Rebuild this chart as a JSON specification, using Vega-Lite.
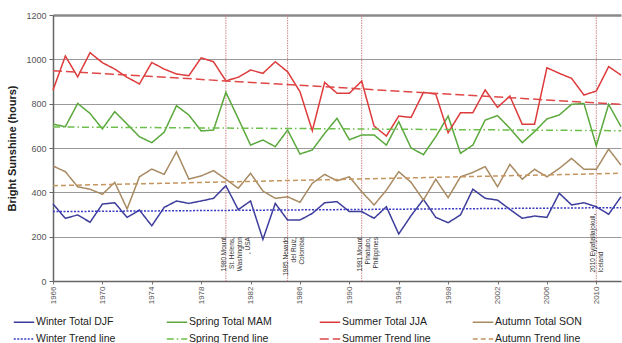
{
  "$schema": "https://vega.github.io/schema/vega-lite/v6.json",
  "width": 568,
  "height": 266,
  "autosize": {"type": "none"},
  "padding": {"left": 53, "top": 15, "right": 1, "bottom": 62},
  "background": "white",
  "config": {"font": "Liberation Sans", "view": {"stroke": null}},
  "datasets": {
    "seasons": [
      {"year": 1966, "Winter Total DJF": 347, "Spring Total MAM": 708, "Summer Total JJA": 861, "Autumn Total SON": 519},
      {"year": 1967, "Winter Total DJF": 283, "Spring Total MAM": 696, "Summer Total JJA": 1015, "Autumn Total SON": 493},
      {"year": 1968, "Winter Total DJF": 298, "Spring Total MAM": 801, "Summer Total JJA": 921, "Autumn Total SON": 425},
      {"year": 1969, "Winter Total DJF": 265, "Spring Total MAM": 756, "Summer Total JJA": 1030, "Autumn Total SON": 414},
      {"year": 1970, "Winter Total DJF": 347, "Spring Total MAM": 686, "Summer Total JJA": 985, "Autumn Total SON": 391},
      {"year": 1971, "Winter Total DJF": 353, "Spring Total MAM": 764, "Summer Total JJA": 956, "Autumn Total SON": 445},
      {"year": 1972, "Winter Total DJF": 287, "Spring Total MAM": 708, "Summer Total JJA": 919, "Autumn Total SON": 325},
      {"year": 1973, "Winter Total DJF": 320, "Spring Total MAM": 651, "Summer Total JJA": 889, "Autumn Total SON": 470},
      {"year": 1974, "Winter Total DJF": 249, "Spring Total MAM": 624, "Summer Total JJA": 986, "Autumn Total SON": 505},
      {"year": 1975, "Winter Total DJF": 332, "Spring Total MAM": 671, "Summer Total JJA": 956, "Autumn Total SON": 481},
      {"year": 1976, "Winter Total DJF": 361, "Spring Total MAM": 791, "Summer Total JJA": 934, "Autumn Total SON": 583},
      {"year": 1977, "Winter Total DJF": 350, "Spring Total MAM": 749, "Summer Total JJA": 926, "Autumn Total SON": 460},
      {"year": 1978, "Winter Total DJF": 361, "Spring Total MAM": 677, "Summer Total JJA": 1007, "Autumn Total SON": 474},
      {"year": 1979, "Winter Total DJF": 373, "Spring Total MAM": 681, "Summer Total JJA": 989, "Autumn Total SON": 498},
      {"year": 1980, "Winter Total DJF": 430, "Spring Total MAM": 851, "Summer Total JJA": 903, "Autumn Total SON": 459},
      {"year": 1981, "Winter Total DJF": 322, "Spring Total MAM": 733, "Summer Total JJA": 919, "Autumn Total SON": 418},
      {"year": 1982, "Winter Total DJF": 361, "Spring Total MAM": 613, "Summer Total JJA": 952, "Autumn Total SON": 486},
      {"year": 1983, "Winter Total DJF": 188, "Spring Total MAM": 636, "Summer Total JJA": 937, "Autumn Total SON": 406},
      {"year": 1984, "Winter Total DJF": 350, "Spring Total MAM": 606, "Summer Total JJA": 989, "Autumn Total SON": 373},
      {"year": 1985, "Winter Total DJF": 275, "Spring Total MAM": 681, "Summer Total JJA": 944, "Autumn Total SON": 380},
      {"year": 1986, "Winter Total DJF": 275, "Spring Total MAM": 573, "Summer Total JJA": 854, "Autumn Total SON": 355},
      {"year": 1987, "Winter Total DJF": 305, "Spring Total MAM": 591, "Summer Total JJA": 678, "Autumn Total SON": 441},
      {"year": 1988, "Winter Total DJF": 353, "Spring Total MAM": 666, "Summer Total JJA": 896, "Autumn Total SON": 481},
      {"year": 1989, "Winter Total DJF": 358, "Spring Total MAM": 734, "Summer Total JJA": 847, "Autumn Total SON": 452},
      {"year": 1990, "Winter Total DJF": 313, "Spring Total MAM": 637, "Summer Total JJA": 847, "Autumn Total SON": 470},
      {"year": 1991, "Winter Total DJF": 313, "Spring Total MAM": 659, "Summer Total JJA": 902, "Autumn Total SON": 403},
      {"year": 1992, "Winter Total DJF": 283, "Spring Total MAM": 659, "Summer Total JJA": 699, "Autumn Total SON": 343},
      {"year": 1993, "Winter Total DJF": 335, "Spring Total MAM": 613, "Summer Total JJA": 654, "Autumn Total SON": 410},
      {"year": 1994, "Winter Total DJF": 212, "Spring Total MAM": 719, "Summer Total JJA": 744, "Autumn Total SON": 493},
      {"year": 1995, "Winter Total DJF": 295, "Spring Total MAM": 600, "Summer Total JJA": 738, "Autumn Total SON": 445},
      {"year": 1996, "Winter Total DJF": 368, "Spring Total MAM": 570, "Summer Total JJA": 851, "Autumn Total SON": 365},
      {"year": 1997, "Winter Total DJF": 287, "Spring Total MAM": 651, "Summer Total JJA": 843, "Autumn Total SON": 459},
      {"year": 1998, "Winter Total DJF": 263, "Spring Total MAM": 744, "Summer Total JJA": 669, "Autumn Total SON": 376},
      {"year": 1999, "Winter Total DJF": 298, "Spring Total MAM": 576, "Summer Total JJA": 759, "Autumn Total SON": 470},
      {"year": 2000, "Winter Total DJF": 414, "Spring Total MAM": 613, "Summer Total JJA": 759, "Autumn Total SON": 490},
      {"year": 2001, "Winter Total DJF": 373, "Spring Total MAM": 726, "Summer Total JJA": 862, "Autumn Total SON": 516},
      {"year": 2002, "Winter Total DJF": 365, "Spring Total MAM": 746, "Summer Total JJA": 783, "Autumn Total SON": 425},
      {"year": 2003, "Winter Total DJF": 323, "Spring Total MAM": 689, "Summer Total JJA": 834, "Autumn Total SON": 526},
      {"year": 2004, "Winter Total DJF": 283, "Spring Total MAM": 624, "Summer Total JJA": 707, "Autumn Total SON": 459},
      {"year": 2005, "Winter Total DJF": 293, "Spring Total MAM": 674, "Summer Total JJA": 707, "Autumn Total SON": 504},
      {"year": 2006, "Winter Total DJF": 287, "Spring Total MAM": 731, "Summer Total JJA": 962, "Autumn Total SON": 470},
      {"year": 2007, "Winter Total DJF": 396, "Spring Total MAM": 749, "Summer Total JJA": 937, "Autumn Total SON": 508},
      {"year": 2008, "Winter Total DJF": 343, "Spring Total MAM": 797, "Summer Total JJA": 914, "Autumn Total SON": 553},
      {"year": 2009, "Winter Total DJF": 353, "Spring Total MAM": 801, "Summer Total JJA": 839, "Autumn Total SON": 504},
      {"year": 2010, "Winter Total DJF": 335, "Spring Total MAM": 610, "Summer Total JJA": 857, "Autumn Total SON": 504},
      {"year": 2011, "Winter Total DJF": 301, "Spring Total MAM": 797, "Summer Total JJA": 967, "Autumn Total SON": 595},
      {"year": 2012, "Winter Total DJF": 380, "Spring Total MAM": 696, "Summer Total JJA": 929, "Autumn Total SON": 523}
    ],
    "trends": [
      {"year": 1966, "Winter Trend line": 313, "Spring Trend line": 695, "Summer Trend line": 949, "Autumn Trend line": 430},
      {"year": 2012, "Winter Trend line": 331, "Spring Trend line": 678, "Summer Trend line": 797, "Autumn Trend line": 486}
    ],
    "events": [
      {"year": 1980, "label": "1980 Mount\nSt. Helens,\nWashington\n, USA", "pos": "top"},
      {"year": 1985, "label": "1985 Nevado\ndel Ruiz,\nColombia", "pos": "top"},
      {"year": 1991, "label": "1991 Mount\nPinatubo,\nPhilippines", "pos": "top"},
      {"year": 2010, "label": "2010 Eyjafjallajokull,\nIceland", "pos": "bottom"}
    ]
  },
  "layer": [
    {
      "data": {"name": "events"},
      "mark": {"type": "rule", "color": "#c97b7b", "strokeWidth": 0.9, "strokeDash": [1.5, 1]},
      "encoding": {
        "x": {"field": "year", "type": "quantitative", "title": null}
      }
    },
    {
      "data": {"name": "seasons"},
      "transform": [{"fold": ["Winter Total DJF", "Spring Total MAM", "Summer Total JJA", "Autumn Total SON"], "as": ["series", "hours"]}],
      "mark": {"type": "line", "strokeWidth": 1.5},
      "encoding": {
        "x": {
          "field": "year", "type": "quantitative", "title": null,
          "scale": {"domain": [1966, 2012], "nice": false, "zero": false},
          "axis": {
            "values": [1966,1967,1968,1969,1970,1971,1972,1973,1974,1975,1976,1977,1978,1979,1980,1981,1982,1983,1984,1985,1986,1987,1988,1989,1990,1991,1992,1993,1994,1995,1996,1997,1998,1999,2000,2001,2002,2003,2004,2005,2006,2007,2008,2009,2010,2011,2012],
            "labelExpr": "(datum.value - 1966) % 4 == 0 ? datum.label : ''",
            "format": "d",
            "labelAngle": 270,
            "labelFontSize": 8,
            "labelColor": "#555555",
            "labelOverlap": false,
            "labelFlush": false,
            "labelPadding": 2,
            "tickSize": 3,
            "tickColor": "#777777",
            "domainColor": "#666666",
            "domainWidth": 1.5,
            "grid": false,
            "title": null
          }
        },
        "y": {
          "field": "hours", "type": "quantitative",
          "scale": {"domain": [0, 1200], "nice": false},
          "axis": {
            "values": [0, 200, 400, 600, 800, 1000, 1200],
            "format": "d",
            "grid": true,
            "gridColor": {"condition": {"test": "datum.value === 1200", "value": "#8a8a8a"}, "value": "#9a9a9a"},
            "gridWidth": {"condition": {"test": "datum.value === 1200", "value": 2.5}, "value": 1.2},
            "domainColor": "#666666",
            "domainWidth": 1.5,
            "tickColor": "#666666",
            "tickSize": 4,
            "labelFontSize": 9,
            "labelColor": "#555555",
            "labelPadding": 3,
            "title": "Bright Sunshine (hours)",
            "titleFontSize": 11,
            "titleFontWeight": "bold",
            "titleColor": "#222222",
            "titlePadding": 8
          }
        },
        "color": {
          "field": "series", "type": "nominal",
          "scale": {
            "domain": ["Winter Total DJF", "Spring Total MAM", "Summer Total JJA", "Autumn Total SON", "Winter Trend line", "Spring Trend line", "Summer Trend line", "Autumn Trend line"],
            "range": ["#3d3d9c", "#5aa83c", "#dd3b3b", "#a88a62", "#3a3ac2", "#6cbf4a", "#e04848", "#c4955e"]
          },
          "legend": {"orient": "none", "direction": "horizontal", "legendX": -40, "legendY": 296, "columns": 4, "gridAlign": "all", "columnPadding": 38, "rowPadding": -8, "symbolType": "stroke", "symbolSize": 420, "symbolStrokeWidth": 1.5, "labelFontSize": 10.5, "labelColor": "#222222", "labelOffset": 1, "title": null}
        },
        "strokeDash": {
          "field": "series", "type": "nominal",
          "scale": {
            "domain": ["Winter Total DJF", "Spring Total MAM", "Summer Total JJA", "Autumn Total SON", "Winter Trend line", "Spring Trend line", "Summer Trend line", "Autumn Trend line"],
            "range": [[1, 0], [1, 0], [1, 0], [1, 0], [2, 1.5], [7, 3, 1.5, 3], [9, 4], [5, 3]]
          },
          "legend": {"orient": "none", "direction": "horizontal", "legendX": -40, "legendY": 296, "columns": 4, "gridAlign": "all", "columnPadding": 38, "rowPadding": -8, "symbolType": "stroke", "symbolSize": 420, "symbolStrokeWidth": 1.5, "labelFontSize": 10.5, "labelColor": "#222222", "labelOffset": 1, "title": null}
        }
      }
    },
    {
      "data": {"name": "trends"},
      "transform": [{"fold": ["Winter Trend line", "Spring Trend line", "Summer Trend line", "Autumn Trend line"], "as": ["series", "hours"]}],
      "mark": {"type": "line", "strokeWidth": 1.5},
      "encoding": {
        "x": {"field": "year", "type": "quantitative", "title": null},
        "y": {"field": "hours", "type": "quantitative"},
        "color": {"field": "series", "type": "nominal"},
        "strokeDash": {"field": "series", "type": "nominal"}
      }
    },
    {
      "data": {"name": "events"},
      "transform": [{"filter": "datum.pos === 'top'"}],
      "mark": {"type": "text", "angle": 270, "align": "right", "baseline": "middle", "fontSize": 6.5, "lineBreak": "\n", "lineHeight": 8, "color": "#333333", "dy": -2},
      "encoding": {
        "x": {"field": "year", "type": "quantitative", "title": null},
        "y": {"datum": 198},
        "text": {"field": "label"}
      }
    },
    {
      "data": {"name": "events"},
      "transform": [{"filter": "datum.pos === 'bottom'"}],
      "mark": {"type": "text", "angle": 270, "align": "left", "baseline": "middle", "fontSize": 6.5, "lineBreak": "\n", "lineHeight": 8, "color": "#333333", "dy": -3},
      "encoding": {
        "x": {"field": "year", "type": "quantitative", "title": null},
        "y": {"datum": 38},
        "text": {"field": "label"}
      }
    }
  ]
}
